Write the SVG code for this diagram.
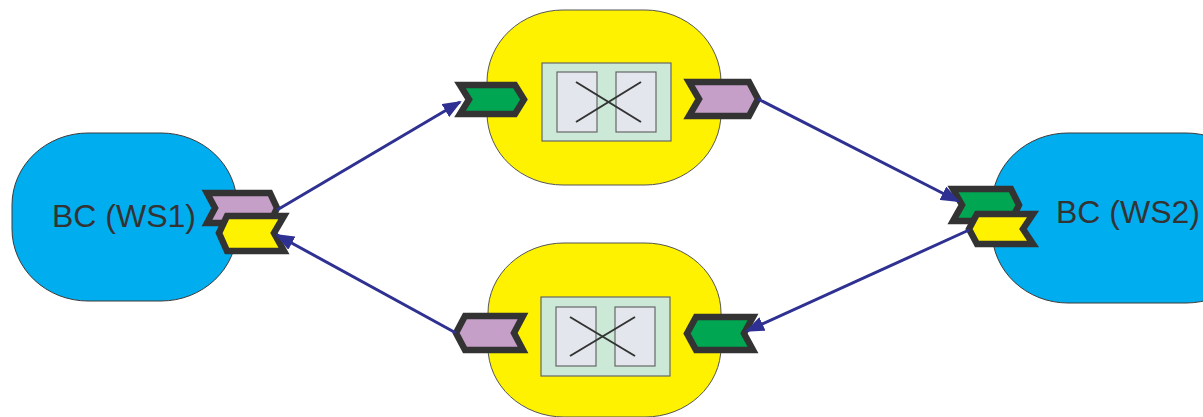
<svg xmlns="http://www.w3.org/2000/svg" width="1203" height="417" viewBox="0 0 1203 417">
<style>
.bc{fill:#00AEEF;stroke:#3a3a3a;stroke-width:1}
.proc{fill:#FFF200;stroke:#555;stroke-width:1}
.inner{fill:#CCE8D6;stroke:#666;stroke-width:1.2}
.box{fill:#E4E6EE;stroke:#666;stroke-width:1.2}
.x{stroke:#333;stroke-width:2;fill:none}
.port{stroke:#333;stroke-width:6.5;stroke-linejoin:miter;stroke-miterlimit:4}
.g{fill:#00A651}
.p{fill:#C69FC9}
.y{fill:#FFF200}
.lbl{font-family:"Liberation Sans",Arial,sans-serif;font-size:32px;fill:#333}
.conn{stroke:#2E3192;stroke-width:3;fill:none}
</style>
<defs>
<marker id="arr" markerUnits="userSpaceOnUse" markerWidth="19" markerHeight="15" viewBox="0 0 19 15" refX="17" refY="7.5" orient="auto">
<path d="M0,0 L19,7.5 L0,15 z" fill="#2E3192"/>
</marker>
</defs>

<g id="bc-ws1">
<rect class="bc" x="12" y="133" width="225" height="168" rx="76" ry="72"/>
<text class="lbl" x="52" y="227">BC (WS1)</text>
<polygon class="port p" points="207,193 270,193 277,208 270,223 207,223 215,208"/>
<polygon class="port y" points="219,233 227,216 284,216 274,233 284,251 227,251"/>
</g>

<g id="bc-ws2">
<rect class="bc" x="992" y="133" width="270" height="170" rx="76" ry="72"/>
<text class="lbl" x="1056" y="223">BC (WS2)</text>
<polygon class="port g" points="953,189 1011,189 1019,205 1011,221 953,221 962,205"/>
<polygon class="port y" points="969,229 977,214 1033,214 1023,229 1033,244 977,244"/>
</g>

<g id="proc-top">
<rect class="proc" x="487" y="10" width="234" height="175" rx="76" ry="72"/>
<rect class="inner" x="542" y="63" width="129" height="78"/>
<rect class="box" x="557" y="72" width="40" height="60"/>
<rect class="box" x="616" y="72" width="40" height="60"/>
<line class="x" x1="576" y1="82" x2="641" y2="122"/>
<line class="x" x1="576" y1="122" x2="641" y2="82"/>
<polygon class="port g" points="460,85 515,85 524,99.5 515,114 460,114 469,99.5"/>
<polygon class="port p" points="689,82 749,82 758,99 749,116 689,116 699,99"/>
</g>

<g id="proc-bottom">
<rect class="proc" x="488" y="243" width="233" height="174" rx="76" ry="70"/>
<rect class="inner" x="541" y="297" width="129" height="79"/>
<rect class="box" x="556" y="307" width="40" height="59"/>
<rect class="box" x="615" y="307" width="40" height="59"/>
<line class="x" x1="570" y1="317" x2="635" y2="356"/>
<line class="x" x1="570" y1="356" x2="635" y2="317"/>
<polygon class="port p" points="456,333 465,316 523,316 514,333 523,350 465,350"/>
<polygon class="port g" points="687,333.5 696,317 753,317 744,333.5 753,350 696,350"/>
</g>

<g id="connectors">
<line class="conn" x1="277" y1="210" x2="460" y2="102" marker-end="url(#arr)"/>
<line class="conn" x1="758" y1="99" x2="958" y2="201" marker-end="url(#arr)"/>
<line class="conn" x1="969" y1="230" x2="747" y2="331" marker-end="url(#arr)"/>
<line class="conn" x1="456" y1="333" x2="277" y2="235" marker-end="url(#arr)"/>
</g>
</svg>
